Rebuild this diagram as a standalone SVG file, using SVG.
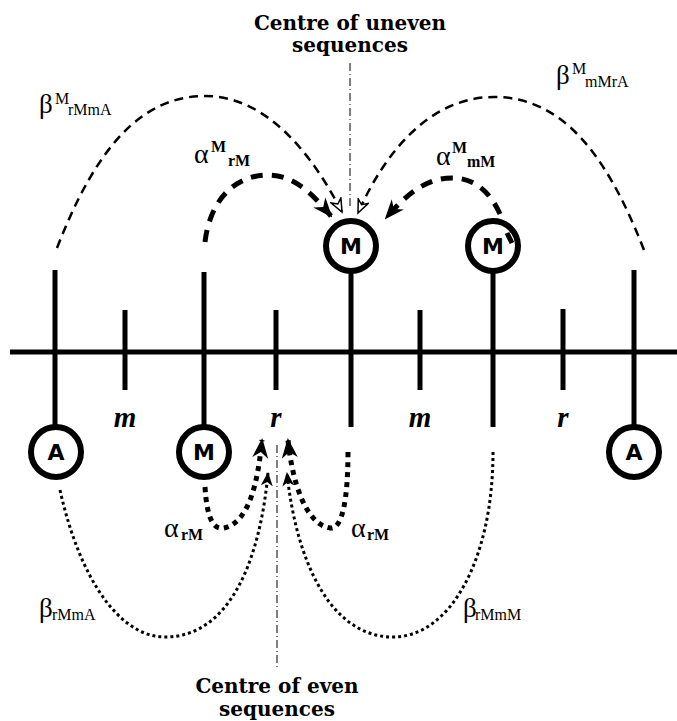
<svg xmlns="http://www.w3.org/2000/svg" width="677" height="721" viewBox="0 0 677 721">
<style>
.ax{stroke:#000;stroke-width:5;fill:none}
.ring{fill:#fff;stroke:#000;stroke-width:6}
.nt{font-family:"DejaVu Sans","Liberation Sans",sans-serif;font-weight:bold;font-size:22px;text-anchor:middle}
.lab{font-family:"Liberation Serif","Times New Roman",serif;font-style:italic;font-weight:bold;font-size:29px;text-anchor:middle}
.title{font-family:"DejaVu Serif","Liberation Serif",serif;font-weight:bold;font-size:20px;text-anchor:middle}
.gr{font-family:"Liberation Serif","Times New Roman",serif;fill:#000}
.axis{stroke:#000;stroke-width:1;stroke-dasharray:8,3,1,3;fill:none}
.dashThin{stroke:#000;stroke-width:2.5;stroke-dasharray:9,6;fill:none}
.dashThick{stroke:#000;stroke-width:5;stroke-dasharray:12,9;fill:none}
.dotThick{stroke:#000;stroke-width:5;stroke-dasharray:5,5;fill:none}
.dotThin{stroke:#000;stroke-width:3;stroke-dasharray:3,3;fill:none}
</style>
<defs>
<marker id="big" markerUnits="userSpaceOnUse" viewBox="0 0 20 16" refX="18" refY="8" markerWidth="20" markerHeight="16" orient="auto">
<path d="M0,0 L20,8 L0,16 L6,8 z" fill="#000"/>
</marker>
<marker id="thin" markerUnits="userSpaceOnUse" viewBox="-1 -1 16 13" refX="13" refY="5.5" markerWidth="16" markerHeight="13" orient="auto">
<path d="M0,0 L13,5.5 L0,11 L4,5.5 z" fill="#fff" stroke="#000" stroke-width="1.5"/>
</marker>
<marker id="small" markerUnits="userSpaceOnUse" viewBox="0 0 14 12" refX="13" refY="6" markerWidth="14" markerHeight="12" orient="auto">
<path d="M0,0 L14,6 L0,12 L4,6 z" fill="#000"/>
</marker>
</defs>

<g id="titles">
<text class="title" x="350" y="30">Centre of uneven</text>
<text class="title" x="350" y="52">sequences</text>
<text class="title" x="277" y="693">Centre of even</text>
<text class="title" x="277" y="716">sequences</text>
</g>

<g id="axes">
<line class="axis" x1="350" y1="63" x2="350" y2="206"/>
<line class="axis" x1="277" y1="445" x2="277" y2="668"/>
</g>

<g id="chain">
<line class="ax" x1="10" y1="352" x2="677" y2="352"/>
<line class="ax" x1="55" y1="270" x2="55" y2="430"/>
<line class="ax" x1="125" y1="310" x2="125" y2="390"/>
<line class="ax" x1="204" y1="272" x2="204" y2="430"/>
<line class="ax" x1="276" y1="310" x2="276" y2="390"/>
<line class="ax" x1="351" y1="268" x2="351" y2="427"/>
<line class="ax" x1="420" y1="310" x2="420" y2="390"/>
<line class="ax" x1="493" y1="268" x2="493" y2="427"/>
<line class="ax" x1="563" y1="309" x2="563" y2="390"/>
<line class="ax" x1="634" y1="270" x2="634" y2="430"/>
<text class="lab" x="125" y="427">m</text>
<text class="lab" x="276" y="427">r</text>
<text class="lab" x="420" y="427">m</text>
<text class="lab" x="563" y="427">r</text>
</g>

<g id="nodeA1"><circle class="ring" cx="56" cy="452" r="25"/><text class="nt" x="56" y="460">A</text></g>
<g id="nodeM1"><circle class="ring" cx="204" cy="452" r="25"/><text class="nt" x="204" y="460">M</text></g>
<g id="nodeM2"><circle class="ring" cx="351" cy="246" r="25"/><text class="nt" x="351" y="254">M</text></g>
<g id="nodeM3"><circle class="ring" cx="493" cy="246" r="25"/><text class="nt" x="493" y="254">M</text></g>
<g id="nodeA2"><circle class="ring" cx="634" cy="452" r="25"/><text class="nt" x="634" y="460">A</text></g>

<g id="connectors">
<path class="dashThin" d="M57,248 C95,150 140,96 205,96 C270,96 315,160 342,212" marker-end="url(#thin)"/>
<path class="dashThin" d="M644,250 C605,150 560,97 494,97 C430,97 385,152 358,213" marker-end="url(#thin)"/>
<path class="dashThick" d="M205,242 C210,200 235,175 268,175 C295,175 313,195 331,216" marker-end="url(#big)"/>
<path class="dashThick" d="M500,214 C490,192 475,178 452,178 C425,178 405,196 386,218" marker-end="url(#big)"/>
<line x1="507" y1="233" x2="512" y2="243" stroke="#000" stroke-width="5"/>
<path class="dotThick" d="M205,487 C207,520 214,530 224,528 C250,522 258,480 262,440" marker-end="url(#big)"/>
<path class="dotThick" d="M348,452 C348,500 342,530 330,528 C305,524 292,480 288,440" marker-end="url(#big)"/>
<path class="dotThin" d="M60,490 C80,580 120,637 165,637 C230,637 260,560 268,473" marker-end="url(#small)"/>
<path class="dotThin" d="M493,452 C493,560 450,637 393,637 C330,637 296,560 287,473" marker-end="url(#small)"/>
</g>

<g id="labels" class="gr">
<text x="39" y="113" font-size="27">β</text>
<text x="55" y="104" font-size="16">M</text>
<text x="68" y="115" font-size="16">rMmA</text>

<text x="556" y="84" font-size="27">β</text>
<text x="572" y="74" font-size="16">M</text>
<text x="585" y="87" font-size="16">mMrA</text>

<text x="194" y="163" font-size="28">α</text>
<text x="211" y="152" font-size="16" font-weight="bold">M</text>
<text x="228" y="166" font-size="16" font-weight="bold">rM</text>

<text x="436" y="165" font-size="28">α</text>
<text x="452" y="153" font-size="16" font-weight="bold">M</text>
<text x="467" y="167" font-size="16" font-weight="bold">mM</text>

<text x="164" y="537" font-size="28">α</text>
<text x="181" y="540" font-size="16" font-weight="bold">rM</text>

<text x="351" y="537" font-size="28">α</text>
<text x="367" y="540" font-size="16" font-weight="bold">rM</text>

<text x="39" y="617" font-size="27">β</text>
<text x="52" y="620" font-size="16">rMmA</text>

<text x="463" y="617" font-size="27">β</text>
<text x="475" y="620" font-size="16">rMmM</text>
</g>
</svg>
